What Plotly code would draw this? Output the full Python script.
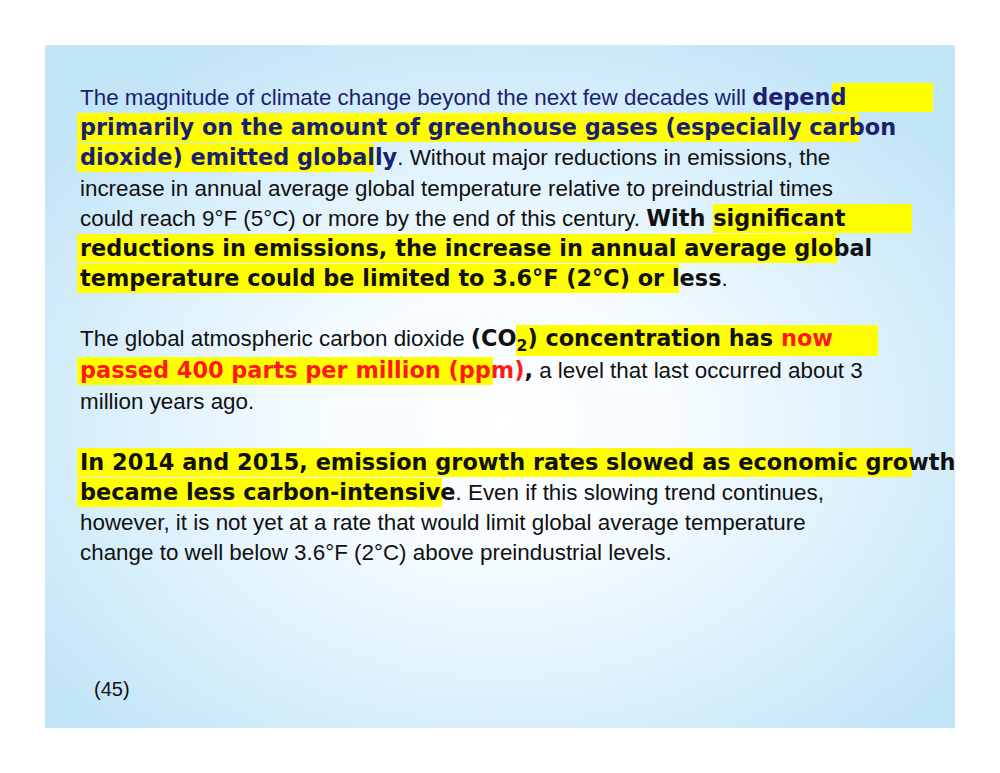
import plotly.graph_objects as go
import base64

W, H = 1000, 773
OFF = 8  # page body margin compensation
NAVY = "#1a1f6e"
BLACK = "#111111"
RED = "#ff1a1a"
BF = "font-family:DejaVu Sans"

def B(s):
    return f"<span style='{BF}'><b>{s}</b></span>"

# Text lines: (y pixel of line centre, rich text)
line_y = [97, 127, 157, 188, 218, 248, 278, 340, 370, 401, 462, 492, 522, 552]
line_text = [
    f"<span style='color:{NAVY}'>The magnitude of climate change beyond the next few decades will {B('depend')}</span>",
    f"<span style='color:{NAVY}'>{B('primarily on the amount of greenhouse gases (especially carbon')}</span>",
    f"<span style='color:{NAVY}'>{B('dioxide) emitted globally')}</span>. Without major reductions in emissions, the",
    "increase in annual average global temperature relative to preindustrial times",
    f"could reach 9°F (5°C) or more by the end of this century. {B('With significant')}",
    B("reductions in emissions, the increase in annual average global"),
    B("temperature could be limited to 3.6°F (2°C) or less") + ".",
    f"The global atmospheric carbon dioxide {B('(CO<sub>2</sub>) concentration has ')}<span style='color:{RED}'>{B('now')}</span>",
    f"<span style='color:{RED}'>{B('passed 400 parts per million (ppm)')}</span>{B(',')} a level that last occurred about 3",
    "million years ago.",
    B("In 2014 and 2015, emission growth rates slowed as economic growth"),
    B("became less carbon-intensive") + ". Even if this slowing trend continues,",
    "however, it is not yet at a rate that would limit global average temperature",
    "change to well below 3.6°F (2°C) above preindustrial levels.",
]
# Highlight boxes: (x0, x1, y0, y1) in pixels
highlights = [
    (832, 933, 83, 112), (77, 859, 113, 142), (77, 374, 143, 172),
    (713, 912, 204, 233), (77, 837, 234, 263), (77, 679, 264, 293),
    (516, 878, 325, 356), (77, 493, 357, 385),
    (77, 912, 448, 477), (77, 442, 478, 507),
]
page_label = "(45)"

def px(x): return (x - OFF) / W
def py(y): return 1 - (y - OFF) / H

svg = """<svg xmlns='http://www.w3.org/2000/svg' width='910' height='683'>
<defs><radialGradient id='g' cx='0.5' cy='0.55' r='0.62'>
<stop offset='0' stop-color='#ffffff'/><stop offset='0.35' stop-color='#f4fbff'/>
<stop offset='1' stop-color='#c3e5f8'/></radialGradient></defs>
<rect width='910' height='683' fill='url(#g)'/></svg>"""
src = "data:image/svg+xml;base64," + base64.b64encode(svg.encode()).decode()

fig = go.Figure()
fig.add_layout_image(dict(source=src, xref="paper", yref="paper", x=px(45), y=py(45),
                          sizex=px(955) - px(45), sizey=py(45) - py(728),
                          xanchor="left", yanchor="top", sizing="stretch", layer="below"))
shapes = [dict(type="rect", xref="paper", yref="paper", x0=px(a), x1=px(b), y0=py(d), y1=py(c),
               fillcolor="#ffff00", line_width=0, layer="below") for a, b, c, d in highlights]

ann = []
for y, t in zip(line_y, line_text):
    ann.append(dict(x=px(78), y=py(y), xref="paper", yref="paper", text=t, showarrow=False,
                    xanchor="left", yanchor="middle", align="left",
                    font=dict(family="Liberation Sans, Arial", size=22.4, color=BLACK)))
ann.append(dict(x=px(92), y=py(689), xref="paper", yref="paper", text=page_label, showarrow=False,
                xanchor="left", yanchor="middle",
                font=dict(family="Liberation Sans, Arial", size=20, color=BLACK)))

fig.update_layout(width=W, height=H, margin=dict(l=0, r=0, t=0, b=0),
                  paper_bgcolor="white", plot_bgcolor="rgba(0,0,0,0)",
                  xaxis=dict(visible=False, range=[0, 1]), yaxis=dict(visible=False, range=[0, 1]),
                  shapes=shapes, annotations=ann, showlegend=False)
fig.write_html("out.html")
